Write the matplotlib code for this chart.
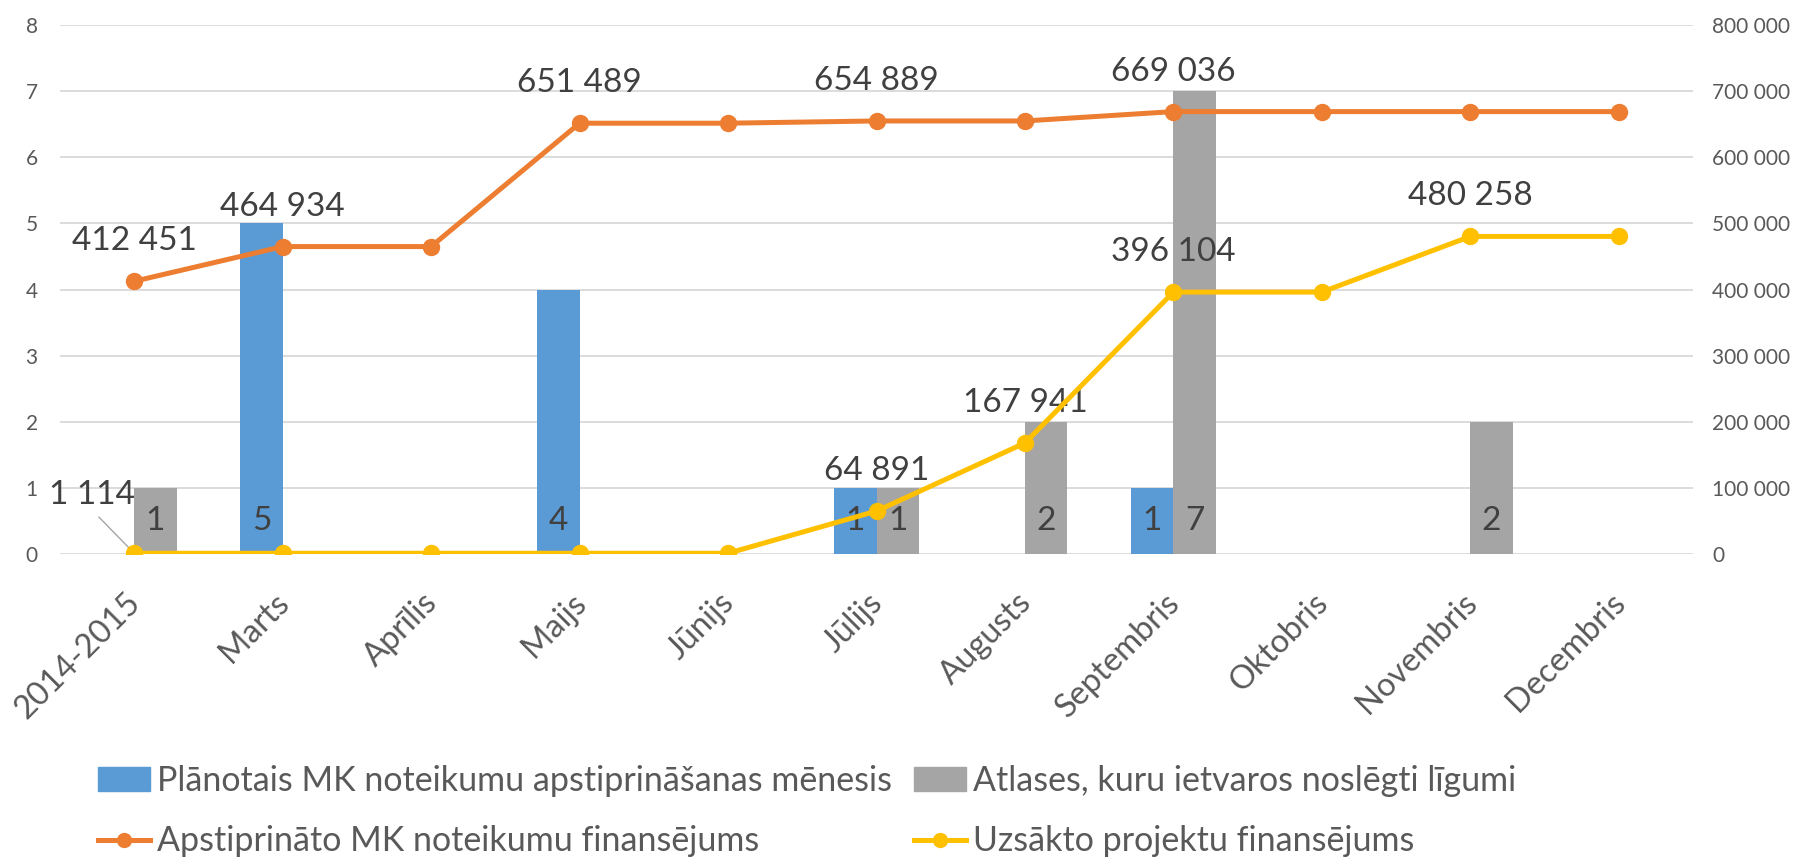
import matplotlib
matplotlib.use("Agg")
import matplotlib.pyplot as plt
from matplotlib.lines import Line2D
from matplotlib.patches import Patch
from matplotlib.ticker import FuncFormatter, MultipleLocator
from matplotlib.transforms import ScaledTranslation
import numpy as np

plt.rcParams['font.family'] = ['Lato', 'DejaVu Sans']

categories = ["2014-2015", "Marts", "Aprīlis", "Maijs", "Jūnijs", "Jūlijs",
              "Augusts", "Septembris", "Oktobris", "Novembris", "Decembris"]
planned = [0, 5, 0, 4, 0, 1, 0, 1, 0, 0, 0]
selections = [1, 0, 0, 0, 0, 1, 2, 7, 0, 2, 0]
approved = [412451, 464934, 464934, 651489, 651489, 654889, 654889,
            669036, 669036, 669036, 669036]
started = [1114, 1114, 1114, 1114, 1114, 64891, 167941, 396104, 396104,
           480258, 480258]

series_names = ["Plānotais MK noteikumu apstiprināšanas mēnesis",
                "Atlases, kuru ietvaros noslēgti līgumi",
                "Apstiprināto MK noteikumu finansējums",
                "Uzsākto projektu finansējums"]

BLUE = "#5B9BD5"
GRAY = "#A5A5A5"
ORANGE = "#ED7D31"
YELLOW = "#FFC000"
LABEL = "#404040"
TICK = "#595959"
GRID = "#D9D9D9"


def fmt_num(v):
    return f"{int(round(v)):,}".replace(",", " ")


W, H = 1799, 858
fig = plt.figure(figsize=(W / 100, H / 100), dpi=100)
ax = fig.add_axes([60 / W, (H - 554) / H, (1693 - 60) / W, (554 - 25) / H])
ax2 = ax.twinx()

x = np.arange(len(categories))
bw = 0.286

b1 = ax.bar(x - bw / 2, planned, width=bw, color=BLUE, zorder=2)
b2 = ax.bar(x + bw / 2, selections, width=bw, color=GRAY, zorder=2)

for bars, vals in ((b1, planned), (b2, selections)):
    for rect, v in zip(bars, vals):
        if v:
            ax.annotate(str(v), (rect.get_x() + rect.get_width() / 2, 0),
                        xytext=(0, 33), textcoords="offset pixels",
                        ha="center", va="center", fontsize=24, color=LABEL,
                        zorder=3)

ax.set_xlim(-0.5, len(categories) - 0.5)
ax.set_ylim(0, 8)
ax.yaxis.set_major_locator(MultipleLocator(1))
ax.grid(axis="y", color=GRID, linewidth=1.3, zorder=0)
ax.set_axisbelow(True)

ax2.set_ylim(0, 800000)
ax2.yaxis.set_major_locator(MultipleLocator(100000))
ax2.yaxis.set_major_formatter(FuncFormatter(lambda v, p: fmt_num(v)))

ax2.plot(x, approved, color=ORANGE, lw=3.6, marker="o", ms=11.5, zorder=4)
ax2.plot(x, started, color=YELLOW, lw=3.6, marker="o", ms=11.5, zorder=4)

for vals in (approved, started):
    for i, v in enumerate(vals):
        if i == 0 or v != vals[i - 1]:
            if vals is started and i == 0:
                ax2.annotate(fmt_num(v), (x[i], v), xytext=(-42, 58),
                             textcoords="offset pixels", ha="center",
                             va="center", fontsize=24, color=LABEL,
                             arrowprops=dict(arrowstyle="-", color="#A6A6A6",
                                             lw=1, relpos=(0.5, 0),
                                             shrinkA=4, shrinkB=0))
            else:
                ax2.annotate(fmt_num(v), (x[i], v), xytext=(0, 40),
                             textcoords="offset pixels", ha="center",
                             va="center", fontsize=24, color=LABEL)

for a in (ax, ax2):
    for s in a.spines.values():
        s.set_visible(False)
    a.tick_params(length=0, colors=TICK, labelsize=15)

ax.tick_params(axis="y", pad=16)
ax2.tick_params(axis="y", pad=14)
ax.set_xticks(x)
ax.set_xticklabels(categories, rotation=45, ha="right", rotation_mode="anchor",
                   fontsize=23.5, color=TICK)
ax.tick_params(axis="x", pad=14)
shift = ScaledTranslation(-9 / 100, -14 / 100, fig.dpi_scale_trans)
for lbl in ax.get_xticklabels():
    lbl.set_transform(lbl.get_transform() + shift)

handles = [Patch(color=BLUE), Line2D([], [], color=ORANGE, lw=3.6, marker="o", ms=10),
           Patch(color=GRAY), Line2D([], [], color=YELLOW, lw=3.6, marker="o", ms=10)]
labels = [series_names[0], series_names[2], series_names[1], series_names[3]]
leg = fig.legend(handles, labels, ncol=2, loc="center left",
                 bbox_to_anchor=(98 / W, 1 - 811 / H), frameon=False,
                 fontsize=24.5, labelcolor=TICK, handlelength=1.53,
                 handletextpad=0.2, columnspacing=0.65, labelspacing=0.85,
                 borderpad=0, borderaxespad=0)

fig.savefig("out.png", dpi=100)
